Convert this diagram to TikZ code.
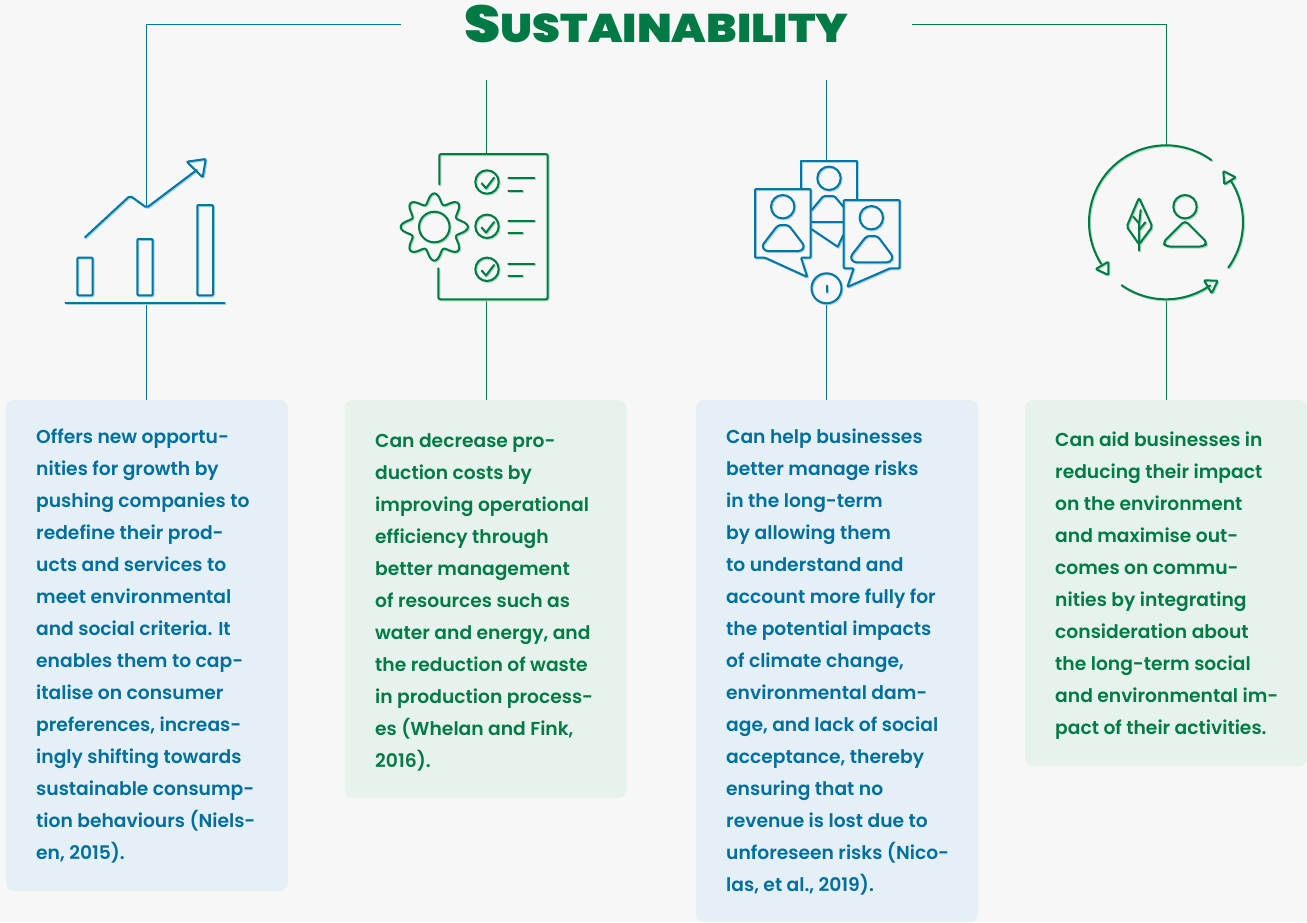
\documentclass[tikz,border=0pt]{standalone}
\usepackage{fontspec}
\setmainfont{Poppins SemiBold}
\newfontfamily\titlefont[FakeStretch=1.116]{Poppins Black}
\definecolor{bg}{HTML}{F7F7F7}
\definecolor{blu}{HTML}{0076A3}
\definecolor{gre}{HTML}{007A45}
\definecolor{blulight}{HTML}{A5D2E4}
\definecolor{grelight}{HTML}{A5D9BE}
\definecolor{boxblu}{HTML}{E5F0F6}
\definecolor{boxgre}{HTML}{E6F2EC}
\definecolor{txtblu}{HTML}{006F9C}
\definecolor{txtgre}{HTML}{017A46}
\tikzset{
  conn/.style={line width=1pt},
  ic/.style={line width=2pt,line join=round,line cap=round},
  panel/.style={rounded corners=8pt,anchor=north west,minimum width=282pt,inner sep=0pt,outer sep=0pt},
  copy/.style={anchor=north west,align=left,inner sep=0pt,font=\fontsize{18.7pt}{32pt}\selectfont}
}
% draws an icon twice: pale offset copy, then the strong one
\newcommand{\shaded}[2]{%
  \begin{scope}[shift={(1,1)},ic,draw=#1light]#2\end{scope}%
  \begin{scope}[ic,draw=#1]#2\end{scope}}
\begin{document}
\begin{tikzpicture}[x=1pt,y=-1pt]
\useasboundingbox (0,0) rectangle (1307,922);
\fill[bg] (0,0) rectangle (1307,922);

% panels
\node[panel,fill=boxblu,minimum height=491pt] (p1) at (6,400) {};
\node[panel,fill=boxgre,minimum height=398pt] (p2) at (344.5,400) {};
\node[panel,fill=boxblu,minimum height=522pt] (p3) at (696,400) {};
\node[panel,fill=boxgre,minimum height=366pt] (p4) at (1025,400) {};

% title
\node[minimum width=511pt,minimum height=40pt,inner sep=0pt,text=gre,outer sep=0pt] (title) at (656.5,24.5)
  {\raisebox{2pt}{\titlefont\fontsize{52pt}{52pt}\selectfont S\fontsize{40pt}{40pt}\selectfont USTAINABILITY}};

% anchor points on the icons
\coordinate (a1) at (146.5,207);
\coordinate (b1) at (146.5,303);
\coordinate (a2) at (486.5,80);
\coordinate (c2) at (486.5,154);
\coordinate (b2) at (486.5,299);
\coordinate (a3) at (826.5,80);
\coordinate (c3) at (826.5,161);
\coordinate (b3) at (826.5,303);
\coordinate (a4) at (1166.5,146);
\coordinate (b4) at (1166.5,300);

% connectors
\draw[conn,blu] (title.west) -| (a1);
\draw[conn,gre] (title.east) -| (a4);
\draw[conn,blu] (b1) -- (b1 |- p1.north);
\draw[conn,gre] (a2) -- (c2);
\draw[conn,gre] (b2) -- (b2 |- p2.north);
\draw[conn,blu] (a3) -- (c3);
\draw[conn,blu] (b3) -- (b3 |- p3.north);
\draw[conn,gre] (b4) -- (b4 |- p4.north);

% icon 1: chart
\shaded{blu}{
  \draw[rounded corners=2pt] (85,237.3) -- (130,195.7) -- (146.7,207.7) -- (196.7,170);
  \draw[rounded corners=1pt] (186.7,161.7) -- (205.7,159) -- (202.7,177.3) -- cycle;
  \draw[rounded corners=1pt] (77.3,257.7) rectangle (92.7,295.3);
  \draw[rounded corners=1pt] (137.3,239) rectangle (152.7,295.3);
  \draw[rounded corners=1pt] (197.3,205) rectangle (213,295.3);
  \draw (65.5,303) -- (224.7,303);
}

% icon 2: checklist and gear
\shaded{gre}{
  \draw[rounded corners=2pt] (439.3,184.3) -- (439.3,154) -- (547.7,154) -- (547.7,299.3) -- (438.3,299.3) -- (438.3,268.3);
  \draw plot[domain=0:360,samples=161] ({434.3+(28.6+5*cos(8*\x))*cos(\x)},{227+(28.6+5*cos(8*\x))*sin(\x)}) -- cycle;
  \draw (434.3,227) circle (15.3);
  \foreach \yy/\ya/\yb in {182/178.3/190.7,226.3/221/233.3,269.3/263.7/276}{
    \draw (487,\yy) circle (11.7);
    \draw (481.7,\yy+1.3) -- (486,\yy+6.3) -- (494,\yy-4.3);
    \draw (508.3,\ya) -- (534.3,\ya);
    \draw (508.3,\yb) -- (522.3,\yb);
  }
}

% icon 3: people cards
\shaded{blu}{
  \draw (800.7,188.3) -- (800.7,160.7) -- (856.7,160.7) -- (856.7,199.3);
  \draw (829,178.3) circle (11.7);
  \draw[rounded corners=1.5pt] (811.7,210) -- (823.3,196) -- (834.3,196) -- (843.3,206.7);
  \draw (811.7,222) -- (843.3,222);
  \draw (811.7,229.3) -- (837.7,246.7) -- (843.3,235);
  \draw[rounded corners=1pt] (755,189) -- (810.7,189) -- (810.7,257.7) -- (801,257.7) -- (807.3,277) -- (765,257.7) -- (755,257.7) -- cycle;
  \draw (782.7,206.7) circle (11.7);
  \draw[rounded corners=3pt] (778,225) -- (788.5,225) -- (804.5,246) -- (801.7,251) -- (765,251) -- (761.8,246) -- cycle;
  \draw[rounded corners=1pt] (843.7,200) -- (899.7,200) -- (899.7,268.3) -- (890,268.3) -- (847.3,287) -- (853.7,268.3) -- (843.7,268.3) -- cycle;
  \draw (871.3,217.7) circle (11.7);
  \draw[rounded corners=3pt] (866.5,236) -- (877.5,236) -- (893.2,257) -- (890,262.3) -- (853.3,262.3) -- (850.2,257) -- cycle;
  \draw (826.5,288.3) circle (15);
  \draw (826.5,285.5) -- (826.5,292);
}

% icon 4: cycle, leaf, person
\shaded{gre}{
  \draw plot[domain=54:212.5,samples=60] ({1166+77*cos(\x)},{222.3-77*sin(\x)});
  \draw plot[domain=234.8:305,samples=30] ({1166+77*cos(\x)},{222.3-77*sin(\x)});
  \draw plot[domain=-36:32.4,samples=30] ({1166+77*cos(\x)},{222.3-77*sin(\x)});
  \draw[rounded corners=1pt] (1095.7,269) -- (1108.3,261.7) -- (1108.3,275) -- cycle;
  \draw[rounded corners=1pt] (1204,280.3) -- (1217.7,280.7) -- (1211.7,293.3) -- cycle;
  \draw[rounded corners=1pt] (1223.3,171) -- (1235.7,177.3) -- (1224.3,184.3) -- cycle;
  \draw[rounded corners=2pt] (1139,197.7) -- (1152.3,226.7) -- (1139,244.3) -- (1126.7,226.7) -- cycle;
  \draw (1139,250.7) -- (1139,225) -- (1140.7,210);
  \draw (1133.3,216.7) -- (1139,223.3);
  \draw (1145.3,222.3) -- (1139,230);
  \draw (1185,206.7) circle (11.7);
  \draw[rounded corners=4pt] (1185,220.5) -- (1207.5,243) -- (1203,246.7) -- (1167,246.7) -- (1162.5,243) -- cycle;
}

% texts
\node[copy,text=txtblu] (t1) at (36,429) {Offers new opportu-\\nities for growth by\\pushing companies to\\redefine their prod-\\ucts and services to\\meet environmental\\and social criteria. It\\enables them to cap-\\italise on consumer\\preferences, increas-\\ingly shifting towards\\sustainable consump-\\tion behaviours (Niels-\\en, 2015).};
\node[copy,text=txtgre] (t2) at (375,433) {Can decrease pro-\\duction costs by\\improving operational\\efficiency through\\better management\\of resources such as\\water and energy, and\\the reduction of waste\\in production process-\\es (Whelan and Fink,\\2016).};
\node[copy,text=txtblu] (t3) at (726,429) {Can help businesses\\better manage risks\\in the long-term\\by allowing them\\to understand and\\account more fully for\\the potential impacts\\of climate change,\\environmental dam-\\age, and lack of social\\acceptance, thereby\\ensuring that no\\revenue is lost due to\\unforeseen risks (Nico-\\las, et al., 2019).};
\node[copy,text=txtgre] (t4) at (1055,432) {Can aid businesses in\\reducing their impact\\on the environment\\and maximise out-\\comes on commu-\\nities by integrating\\consideration about\\the long-term social\\and environmental im-\\pact of their activities.};
\end{tikzpicture}
\end{document}
